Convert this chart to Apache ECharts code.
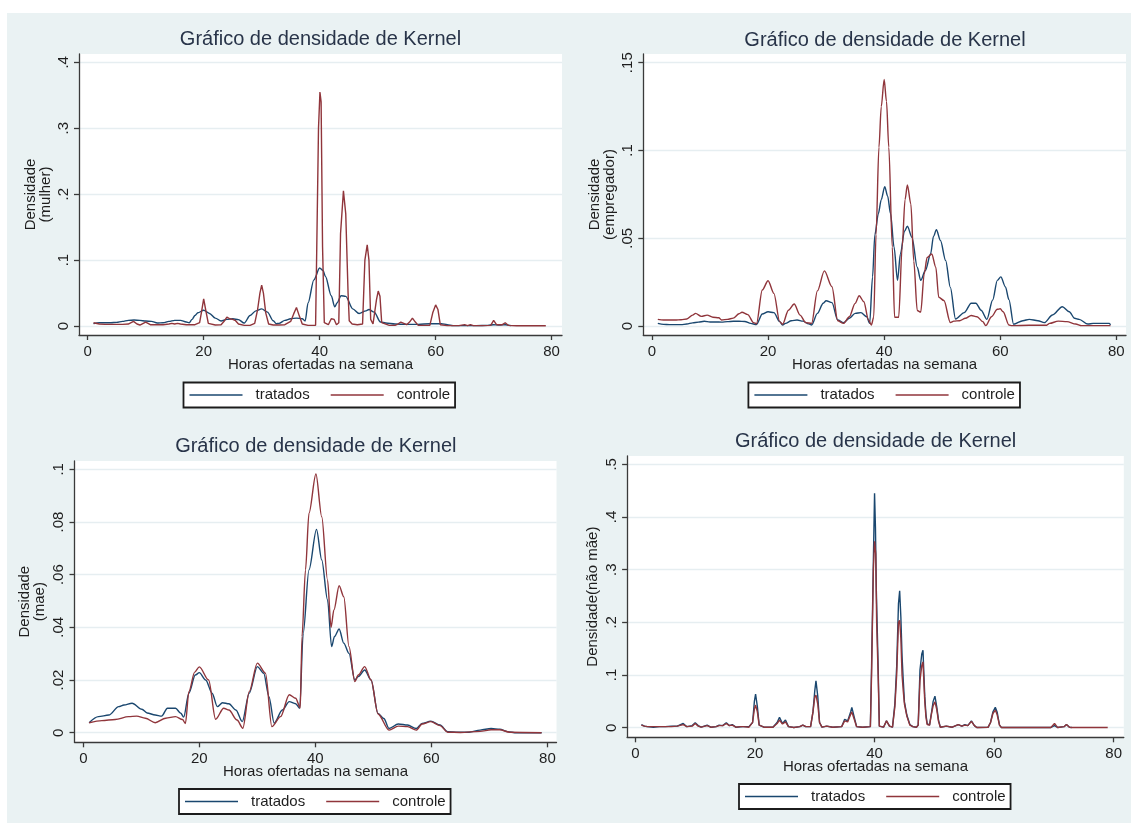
<!DOCTYPE html>
<html><head><meta charset="utf-8">
<script src="https://cdn.jsdelivr.net/npm/echarts@6/dist/echarts.min.js"></script>
<style>html,body{margin:0;padding:0;background:#fff}#c{width:1131px;height:823px}</style>
</head><body><div id="c"></div>
<script>
// ---------------- DATA ----------------
const seriesNames = ['tratados', 'controle'];
const panelTitle = 'Gráfico de densidade de Kernel';
const xAxisTitle = 'Horas ofertadas na semana';
const xTicks = [0, 20, 40, 60, 80];
const xTickLabels = ['0', '20', '40', '60', '80'];

// Panel 1: mulher
const mulherYTitle = 'Densidade\n(mulher)';
const mulherTicks = [0, 0.1, 0.2, 0.3, 0.4];
const mulherTickLabels = ['0', '.1', '.2', '.3', '.4'];
const mulherTratados = [[1,0.0035],[2,0.005],[3,0.005],[4,0.005],[5,0.0055],[6,0.007],[7,0.0086],[8,0.009],[9,0.0086],[10,0.0075],[11,0.007],[12,0.0045],[13,0.005],[14,0.007],[15,0.0086],[16,0.0086],[17,0.006],[17.5,0.005],[18,0.01],[18.5,0.016],[19,0.02],[20,0.024],[21,0.019],[22,0.012],[23,0.0076],[24,0.010],[25,0.011],[26,0.0096],[27,0.0045],[28,0.016],[29,0.023],[30,0.026],[31,0.021],[32,0.008],[32.5,0.0035],[33,0.004],[34,0.0086],[35,0.011],[36,0.012],[37,0.011],[37.5,0.0076],[38,0.035],[39,0.07],[40,0.088],[40.6,0.084],[41,0.075],[42,0.046],[42.6,0.029],[43,0.035],[43.7,0.046],[44.5,0.045],[45.7,0.026],[46.8,0.019],[48,0.023],[48.5,0.025],[49.4,0.021],[50.5,0.006],[51.4,0.0045],[53,0.003],[55,0.0025],[57,0.0025],[59,0.0035],[61,0.0035],[62,0.002],[63,0.0005],[65,0.0005],[67,0.0005],[69,0.001],[70,0.002],[71,0.0015],[72,0.002],[73,0.0005]];
const mulherControle = [[1,0.005],[2,0.003],[3,0.0025],[4,0.0025],[5,0.0025],[6,0.0025],[7,0.003],[7.9,0.007],[8.5,0.003],[9,0.0015],[10,0.006],[10.8,0.002],[12,0.002],[13,0.002],[14,0.003],[14.5,0.004],[15,0.003],[15.5,0.004],[16,0.003],[17,0.002],[18.5,0.002],[19.3,0.005],[19.6,0.02],[20,0.041],[20.4,0.022],[20.8,0.004],[22,0.0015],[23,0.002],[23.6,0.008],[24,0.0136],[24.5,0.011],[25,0.01],[25.5,0.008],[26,0.003],[27,0.001],[28,0.001],[28.8,0.004],[29.3,0.025],[29.7,0.05],[30,0.062],[30.3,0.05],[30.7,0.02],[31.2,0.003],[32,0.0015],[33,0.0015],[34,0.002],[35,0.007],[35.5,0.018],[36,0.028],[36.5,0.015],[37,0.003],[38,0.001],[39.3,0.001],[39.5,0.118],[39.8,0.3],[40.05,0.355],[40.25,0.34],[40.5,0.12],[40.8,0.005],[41.5,0.002],[42,0.011],[42.5,0.01],[42.9,0.002],[43.3,0.005],[43.6,0.14],[44.1,0.205],[44.5,0.17],[44.9,0.05],[45.1,0.008],[45.6,0.003],[46.5,0.002],[47.4,0.003],[47.8,0.1],[48.2,0.123],[48.5,0.1],[48.8,0.01],[49.2,0.003],[49.5,0.005],[49.8,0.04],[50.1,0.053],[50.4,0.045],[50.7,0.005],[51,0.002],[52,0.001],[53,0.001],[53.5,0.003],[54,0.006],[54.5,0.004],[55,0.002],[55.5,0.006],[56,0.012],[56.5,0.006],[57,0.001],[58,0.001],[59,0.001],[59.5,0.02],[60,0.032],[60.4,0.025],[60.8,0.002],[62,0.0005],[64,0.0005],[65,0.002],[65.5,0.0005],[66,0.002],[66.5,0.0005],[68,0.0005],[69.5,0.001],[70,0.0085],[70.5,0.002],[71.5,0.002],[72,0.005],[72.5,0.001],[74,0.0003],[79,0.0003]];

// Panel 2: empregador
const empregadorYTitle = 'Densidade\n(empregador)';
const empregadorTicks = [0, 0.05, 0.1, 0.15];
const empregadorTickLabels = ['0', '.05', '.1', '.15'];
const empregadorTratados = [[1,0.0015],[2,0.0009],[3,0.0008],[4,0.0008],[5,0.0008],[6,0.0011],[7,0.0018],[8,0.0022],[9,0.0027],[10,0.0023],[11,0.0023],[12,0.0022],[13,0.0025],[14,0.0027],[15,0.0027],[16,0.0026],[17,0.0015],[18,0.0008],[19,0.0068],[20,0.0081],[21,0.0076],[22,0.0025],[22.5,0.0006],[23,0.0015],[24,0.003],[25,0.0034],[26,0.0028],[27,0.0012],[27.5,0.0006],[28.5,0.0072],[29.5,0.013],[30,0.0144],[31,0.0133],[32,0.0034],[33,0.0019],[34,0.0044],[35,0.0072],[36,0.0076],[37,0.0053],[37.5,0.0015],[38,0.028],[38.4,0.052],[39,0.064],[39.5,0.072],[40.1,0.0794],[40.6,0.074],[41.1,0.064],[41.7,0.045],[42.3,0.026],[42.8,0.041],[43.5,0.054],[44,0.0568],[44.8,0.0505],[45.7,0.0335],[46.3,0.026],[47.1,0.0316],[48,0.041],[48.5,0.051],[49,0.0548],[49.7,0.0487],[50.6,0.0373],[51.4,0.022],[52.3,0.004],[53.8,0.0076],[55,0.013],[55.8,0.013],[56.7,0.009],[57.7,0.0038],[58.7,0.0148],[59.5,0.026],[60.1,0.028],[60.9,0.0223],[61.5,0.015],[62.3,0.001],[63.9,0.003],[65,0.0038],[66.5,0.003],[67.6,0.0019],[69,0.0063],[70.7,0.011],[71.9,0.0081],[72.8,0.0044],[73.6,0.0038],[75.1,0.0011],[76,0.0015],[78.8,0.0015],[79,0.0006]];
const empregadorControle = [[1,0.0038],[2,0.0034],[3,0.0034],[4,0.0034],[5,0.0036],[6,0.004],[7,0.0062],[7.5,0.0072],[8.5,0.0055],[9.5,0.0062],[10.5,0.005],[11.5,0.0047],[12,0.0034],[13,0.0038],[14,0.0045],[15,0.007],[15.5,0.0078],[16.5,0.0065],[17.5,0.0019],[18,0.0013],[19,0.0205],[20,0.0258],[21,0.0186],[22,0.0025],[22.5,0.001],[23.5,0.009],[24.5,0.0125],[25.5,0.0062],[26.5,0.0019],[27.5,0.0015],[28.5,0.02],[29.7,0.0314],[31,0.0224],[32,0.003],[33,0.0015],[34,0.0053],[35,0.0129],[35.7,0.0172],[36.5,0.0138],[37.3,0.0034],[37.8,0.0006],[38.2,0.005],[38.6,0.052],[39.1,0.1018],[39.5,0.125],[40,0.1405],[40.4,0.128],[40.8,0.1018],[41.4,0.045],[41.8,0.005],[42.5,0.005],[43.1,0.045],[43.6,0.072],[44,0.0804],[44.6,0.0695],[45.1,0.037],[45.7,0.0088],[46.3,0.0079],[46.9,0.0297],[47.4,0.039],[48.2,0.041],[48.9,0.0335],[49.4,0.0164],[50.3,0.0145],[51.4,0.002],[52,0.0028],[53,0.003],[54,0.0044],[55,0.006],[56,0.0053],[57,0.0025],[57.5,0.0002],[58.5,0.0053],[59.5,0.0095],[60,0.0098],[60.5,0.0081],[61.5,0.0006],[62,0.0002],[65,0.0004],[68,0.0004],[68.5,0.0015],[70,0.0028],[71.5,0.0025],[73,0.0011],[74,0.0002],[79,0.0002]];

// Panel 3: mae
const maeYTitle = 'Densidade\n(mae)';
const maeTicks = [0, 0.02, 0.04, 0.06, 0.08, 0.1];
const maeTickLabels = ['0', '.02', '.04', '.06', '.08', '.1'];
const maeTratados = [[1,0.0038],[2.6,0.0061],[4.4,0.0067],[6.1,0.0099],[7,0.0105],[8.4,0.0112],[10.1,0.0089],[11,0.0075],[12.4,0.0067],[13.5,0.0063],[14.5,0.0093],[15.9,0.0093],[16.8,0.0074],[17.3,0.0059],[18.2,0.015],[19.3,0.0219],[20,0.0228],[21.1,0.02],[22.2,0.015],[23.1,0.0099],[24,0.0114],[25.1,0.011],[26.3,0.0086],[27.4,0.0042],[28.6,0.015],[30,0.0251],[31.1,0.0226],[32,0.0137],[32.9,0.0036],[34.3,0.0086],[35.5,0.0118],[36.6,0.011],[37.3,0.0093],[37.9,0.0377],[38.9,0.0618],[40.2,0.0772],[41.1,0.0656],[42.1,0.0504],[42.8,0.0327],[43.3,0.0365],[44.1,0.0394],[44.9,0.034],[45.8,0.0301],[46.8,0.02],[47.4,0.0213],[48.5,0.0238],[49.6,0.02],[50.8,0.0073],[51.8,0.0054],[52.7,0.0016],[54.3,0.0033],[55.9,0.0029],[57.4,0.0016],[58.4,0.0035],[59.9,0.0044],[61.5,0.0029],[62.8,0.0004],[64.6,0.00015],[66.5,0.00015],[68.4,0.001],[70.3,0.0016],[71.8,0.0013],[73.1,0.0004],[74.7,0.0],[79,0.0]];
const maeControle = [[1,0.0038],[3.2,0.0046],[5.5,0.005],[7.8,0.0061],[9.2,0.0063],[10.7,0.0055],[12.4,0.0038],[14.2,0.0055],[15.9,0.0061],[17.1,0.005],[17.6,0.0035],[18.2,0.0156],[19.2,0.023],[20,0.025],[21.6,0.02],[22.8,0.0051],[24.2,0.0093],[25.1,0.0086],[26.5,0.0048],[27.5,0.0017],[28.6,0.0156],[30,0.0264],[31.4,0.0226],[32.5,0.0023],[34,0.0061],[35.5,0.0144],[36.6,0.0131],[37.4,0.0095],[37.7,0.0365],[38.3,0.0618],[38.9,0.0833],[40.1,0.0982],[41.1,0.082],[42.1,0.058],[42.7,0.04],[43.2,0.0466],[44.1,0.0558],[44.9,0.0516],[45.8,0.0327],[46.8,0.0194],[47.4,0.0219],[48.5,0.0251],[49.6,0.02],[50.8,0.0071],[52.7,0.001],[54.3,0.0025],[55.9,0.0023],[57.4,0.001],[58.4,0.0033],[59.9,0.0042],[61.5,0.0027],[62.8,0.0002],[65,0.0001],[68.4,0.0005],[70.3,0.0011],[71.8,0.0011],[73.5,0.0002],[79,0.0]];

// Panel 4: nao mae
const naoMaeYTitle = 'Densidade(não mãe)';
const naoMaeTicks = [0, 0.1, 0.2, 0.3, 0.4, 0.5];
const naoMaeTickLabels = ['0', '.1', '.2', '.3', '.4', '.5'];
const naoMaeTratados = [[1,0.006],[1.5,0.003],[2,0.002],[3,0.001],[4,0.002],[5,0.002],[6,0.003],[7,0.003],[8,0.008],[8.6,0.002],[9.5,0.004],[10,0.0095],[10.5,0.004],[11,0.001],[12,0.005],[12.6,0.001],[13.5,0.002],[14,0.005],[14.6,0.004],[15.2,0.0095],[15.7,0.004],[16.2,0.006],[16.8,0.001],[18,0.002],[19,0.002],[19.6,0.01],[19.9,0.05],[20.1,0.064],[20.4,0.04],[20.7,0.005],[21.5,0.001],[23,0.001],[23.7,0.01],[24.1,0.0196],[24.6,0.008],[25.1,0.0145],[25.6,0.002],[26.5,0.0005],[27.5,0.002],[28,0.005],[28.5,0.002],[29.3,0.002],[29.7,0.03],[30,0.07],[30.2,0.089],[30.5,0.06],[30.8,0.01],[31.2,0.001],[32,0.003],[33,0.001],[34.5,0.002],[35,0.016],[35.5,0.013],[36,0.03],[36.2,0.0386],[36.6,0.02],[37,0.002],[38,0.001],[39.3,0.002],[39.5,0.116],[39.8,0.315],[40,0.445],[40.15,0.38],[40.3,0.26],[40.6,0.116],[40.8,0.003],[41.5,0.001],[42,0.013],[42.5,0.003],[43,0.001],[43.4,0.046],[43.7,0.116],[44,0.235],[44.2,0.26],[44.4,0.21],[44.6,0.136],[44.8,0.09],[45,0.049],[45.4,0.024],[45.9,0.006],[46.4,0.002],[47,0.001],[47.3,0.005],[47.6,0.11],[47.9,0.14],[48.1,0.147],[48.4,0.059],[48.6,0.025],[48.8,0.008],[49.2,0.005],[49.5,0.027],[49.8,0.05],[50.1,0.06],[50.4,0.04],[50.7,0.0145],[51,0.001],[52,0.003],[53,0.001],[54,0.006],[54.6,0.003],[55.1,0.006],[55.6,0.004],[56.2,0.013],[56.7,0.004],[57.1,0.0005],[59,0.001],[59.4,0.01],[59.8,0.03],[60.2,0.0386],[60.5,0.03],[60.9,0.005],[61.2,0.0005],[65,0.0005],[65.1,0.0015],[65.3,0.0005],[69.5,0.0005],[70.1,0.004],[70.6,0.0005],[71.7,0.002],[72.1,0.006],[72.6,0.001],[73,0.0005]];
const naoMaeControle = [[1,0.005],[1.5,0.003],[2,0.002],[3,0.002],[4,0.002],[5,0.002],[6,0.002],[7,0.003],[8,0.006],[8.6,0.002],[9.5,0.003],[10,0.008],[10.5,0.003],[11,0.001],[12,0.004],[12.6,0.001],[13.5,0.002],[14,0.004],[14.6,0.004],[15.2,0.008],[15.7,0.004],[16.2,0.005],[16.8,0.001],[17.5,0.002],[18,0.002],[19,0.001],[19.6,0.01],[19.9,0.035],[20.1,0.043],[20.4,0.03],[20.7,0.005],[21.5,0.001],[23,0.001],[23.7,0.008],[24.1,0.0145],[24.6,0.007],[25.1,0.011],[25.6,0.002],[26.5,0.0005],[27.5,0.002],[28,0.005],[28.5,0.002],[29.3,0.002],[29.7,0.03],[30,0.058],[30.2,0.062],[30.5,0.045],[30.8,0.01],[31.2,0.001],[32,0.003],[33,0.001],[34.5,0.002],[35,0.013],[35.5,0.011],[36,0.025],[36.2,0.030],[36.6,0.016],[37,0.002],[38,0.001],[39.3,0.002],[39.5,0.1],[39.8,0.3],[40,0.354],[40.2,0.33],[40.35,0.2],[40.6,0.1],[40.8,0.003],[41.5,0.001],[42,0.013],[42.5,0.003],[43,0.001],[43.4,0.04],[43.7,0.1],[44,0.2],[44.2,0.204],[44.4,0.17],[44.6,0.1],[44.8,0.07],[45,0.045],[45.4,0.022],[45.9,0.005],[46.4,0.002],[47,0.001],[47.3,0.005],[47.6,0.09],[47.9,0.118],[48.1,0.125],[48.4,0.05],[48.6,0.02],[48.8,0.006],[49.2,0.005],[49.5,0.025],[49.8,0.042],[50.1,0.049],[50.4,0.035],[50.7,0.012],[51,0.001],[52,0.003],[53,0.001],[54,0.006],[54.6,0.003],[55.1,0.005],[55.6,0.004],[56.2,0.012],[56.7,0.004],[57.1,0.0005],[59,0.001],[59.4,0.01],[59.8,0.027],[60.2,0.0335],[60.5,0.025],[60.9,0.005],[61.2,0.0005],[69.5,0.0005],[70.1,0.008],[70.6,0.0005],[71.7,0.002],[72.1,0.006],[72.6,0.001],[73,0.0003],[79,0.0003]];

// ---------------- LAYOUT / STYLE ----------------
const FONT = "'Liberation Sans', Arial, Helvetica, sans-serif";
const COL_T = '#1a476f';
const COL_C = '#90353b';
const BG = '#eaf2f3';
const GRIDLINE = '#e6eef1';
const AXIS = '#3a3a3a';
const TXT = '#1e1e1e';
const TITLE_COL = '#283449';

const panels = [
  { yTitle: mulherYTitle, ticks: mulherTicks, tickLabels: mulherTickLabels, t: mulherTratados, c: mulherControle,
    grid: {left: 79, top: 54, width: 483, height: 281}, xr: [-1.50, 81.79], yr: [-0.01365, 0.4126],
    title: [320.5, 39.3], legend: [183.5, 382.5], nameGap: 26, smoothT: 0.3, smoothC: 0 },
  { yTitle: empregadorYTitle, ticks: empregadorTicks, tickLabels: empregadorTickLabels, t: empregadorTratados, c: empregadorControle,
    grid: {left: 643.3, top: 54, width: 482.7, height: 281}, xr: [-1.50, 81.67], yr: [-0.00513, 0.15496],
    title: [885, 40], legend: [748.4, 382.5], nameGap: 26, smoothT: 0.3, smoothC: 0.3 },
  { yTitle: maeYTitle, ticks: maeTicks, tickLabels: maeTickLabels, t: maeTratados, c: maeControle,
    grid: {left: 74.5, top: 461, width: 482, height: 281.3}, xr: [-1.52, 81.57], yr: [-0.00364, 0.10315],
    title: [315.8, 446.7], legend: [179, 789], nameGap: 27, smoothT: 0.3, smoothC: 0.3 },
  { yTitle: naoMaeYTitle, ticks: naoMaeTicks, tickLabels: naoMaeTickLabels, t: naoMaeTratados, c: naoMaeControle,
    grid: {left: 627.1, top: 456, width: 496.7, height: 281.3}, xr: [-1.39, 81.69], yr: [-0.0182, 0.5158],
    title: [875.6, 441.7], legend: [739, 784], nameGap: 27, smoothT: 0, smoothC: 0 }
];

const option = {
  backgroundColor: '#ffffff',
  animation: false,
  textStyle: {fontFamily: FONT},
  graphic: [{type: 'rect', z: -100, shape: {x: 7, y: 13, width: 1124, height: 810}, style: {fill: BG}}],
  title: [], legend: [], grid: [], xAxis: [], yAxis: [], series: []
};

panels.forEach((p, i) => {
  option.title.push({
    text: panelTitle, left: p.title[0], top: p.title[1] - 11, textAlign: 'center', padding: 0,
    textStyle: {fontFamily: FONT, fontSize: 20, fontWeight: 'normal', color: TITLE_COL, lineHeight: 22}
  });
  option.grid.push(Object.assign({show: true, backgroundColor: '#ffffff', borderWidth: 0, containLabel: false, outerBoundsMode: 'none'}, p.grid));
  option.xAxis.push({
    type: 'value', gridIndex: i, min: p.xr[0], max: p.xr[1],
    name: xAxisTitle, nameLocation: 'middle', nameGap: 22, nameMoveOverlap: false,
    nameTextStyle: {fontFamily: FONT, fontSize: 15, color: TXT, lineHeight: 16},
    axisLine: {show: true, onZero: false, lineStyle: {color: AXIS, width: 1.3}},
    axisTick: {show: true, inside: false, length: 5, customValues: xTicks, lineStyle: {color: AXIS, width: 1.3}},
    axisLabel: {show: true, margin: 9, customValues: xTicks, fontFamily: FONT, fontSize: 15, color: TXT,
      formatter: v => { const k = xTicks.findIndex(t => Math.abs(t - v) < 1e-9); return k >= 0 ? xTickLabels[k] : ''; }},
    splitLine: {show: false}
  });
  option.yAxis.push({
    type: 'value', gridIndex: i, min: p.yr[0], max: p.yr[1],
    name: p.yTitle, nameLocation: 'middle', nameGap: p.nameGap, nameRotate: 90, nameMoveOverlap: false,
    nameTextStyle: {fontFamily: FONT, fontSize: 15, color: TXT, lineHeight: 15, align: 'center'},
    axisLine: {show: true, onZero: false, lineStyle: {color: AXIS, width: 1.3}},
    axisTick: {show: true, inside: false, length: 5, customValues: p.ticks, lineStyle: {color: AXIS, width: 1.3}},
    axisLabel: {show: true, rotate: 90, margin: 8, customValues: p.ticks, fontFamily: FONT, fontSize: 15, color: TXT,
      formatter: v => { const k = p.ticks.findIndex(t => Math.abs(t - v) < 1e-9); return k >= 0 ? p.tickLabels[k] : ''; }},
    splitLine: {show: true, lineStyle: {color: GRIDLINE, width: 1.3}}
  });
  option.series.push({
    name: seriesNames[0], type: 'line', xAxisIndex: i, yAxisIndex: i, data: p.t,
    smooth: p.smoothT, smoothMonotone: 'x',
    showSymbol: false, symbol: 'none', lineStyle: {color: COL_T, width: 1.4}, itemStyle: {color: COL_T}, z: 3
  });
  option.series.push({
    name: seriesNames[1], type: 'line', xAxisIndex: i, yAxisIndex: i, data: p.c,
    smooth: p.smoothC, smoothMonotone: 'x',
    showSymbol: false, symbol: 'none', lineStyle: {color: COL_C, width: 1.4}, itemStyle: {color: COL_C}, z: 4
  });
  option.legend.push({
    data: seriesNames, left: p.legend[0], top: p.legend[1], orient: 'horizontal',
    icon: 'rect', itemWidth: 53, itemHeight: 1.6, itemGap: 21, padding: [4, 5, 4, 6],
    backgroundColor: '#ffffff', borderColor: '#1c1c1c', borderWidth: 1.8, borderRadius: 0,
    textStyle: {fontFamily: FONT, fontSize: 15, color: TXT, padding: [0, 0, 0, 8], lineHeight: 17},
    selectedMode: false
  });
});

const chart = echarts.init(document.getElementById('c'), null, {renderer: 'canvas'});
chart.setOption(option);
</script></body></html>
